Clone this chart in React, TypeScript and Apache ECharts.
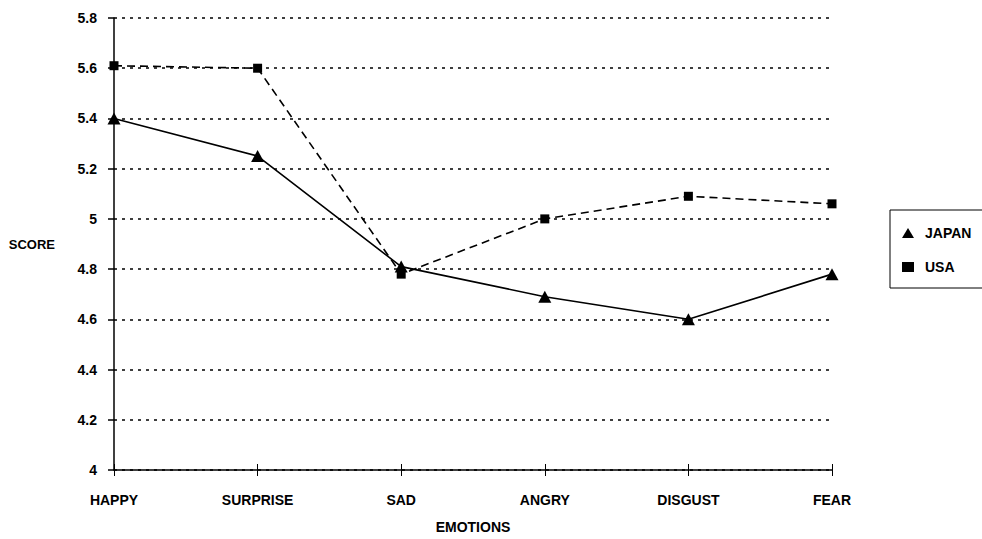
import React, { useEffect, useRef } from "react";
import * as echarts from "echarts";

const categories = ["HAPPY", "SURPRISE", "SAD", "ANGRY", "DISGUST", "FEAR"];
const japan = [5.4, 5.25, 4.81, 4.69, 4.6, 4.78];
const usa = [5.61, 5.6, 4.78, 5.0, 5.09, 5.06];
const yMin = 4;
const yMax = 5.8;
const yStep = 0.2;

const FONT = "'Liberation Sans', Arial, sans-serif";

export default function App() {
  const ref = useRef<HTMLDivElement>(null);
  useEffect(() => {
    if (!ref.current) return;
    const chart = echarts.init(ref.current, undefined, { renderer: "svg" });
    const txt = { fontFamily: FONT, fontWeight: "bold" as const, fontSize: 14, color: "#000" };
    chart.setOption({
      animation: false,
      backgroundColor: "#fff",
      grid: { left: 114, right: 150, top: 18, bottom: 64, containLabel: false },
      legend: {
        orient: "vertical",
        left: 890,
        top: 210,
        padding: [16, 40, 14, 12],
        borderColor: "#000",
        borderWidth: 1,
        itemWidth: 12,
        itemHeight: 10,
        itemGap: 20,
        textStyle: { ...txt, padding: [0, 0, 0, 6] },
        data: [
          { name: "JAPAN", icon: "triangle" },
          { name: "USA", icon: "rect" },
        ],
      },
      xAxis: [
        {
          type: "category",
          data: categories,
          boundaryGap: false,
          axisLine: { lineStyle: { color: "#000", width: 1.5 } },
          axisTick: { show: true, length: 6, lineStyle: { color: "#000", width: 1 } },
          axisLabel: { ...txt, margin: 23 },
          name: "EMOTIONS",
          nameLocation: "middle",
          nameGap: 50,
          nameTextStyle: txt,
          splitLine: { show: false },
        },
        {
          type: "category",
          data: categories,
          boundaryGap: false,
          position: "bottom",
          axisLine: { show: false },
          axisTick: { show: true, inside: true, length: 6, lineStyle: { color: "#000", width: 1 } },
          axisLabel: { show: false },
          splitLine: { show: false },
        },
      ],
      yAxis: {
        type: "value",
        min: yMin,
        max: yMax,
        interval: yStep,
        axisLine: { show: true, lineStyle: { color: "#000", width: 1.5 } },
        axisTick: { show: true, length: 6, lineStyle: { color: "#000", width: 1.5 } },
        axisLabel: {
          ...txt,
          margin: 17,
          formatter: (v: number) => String(Math.round(v * 10) / 10),
        },
        splitLine: {
          show: true,
          lineStyle: { color: "#000", width: 1.5, type: [3, 5] },
        },
        name: "SCORE",
        nameLocation: "middle",
        nameRotate: 0,
        nameGap: 59,
        nameTextStyle: { ...txt, fontSize: 13, align: "right" },
      },
      series: [
        {
          name: "JAPAN",
          type: "line",
          data: japan,
          symbol: "triangle",
          symbolSize: [13, 12],
          lineStyle: { color: "#000", width: 1.6, type: "solid" },
          itemStyle: { color: "#000" },
          z: 3,
        },
        {
          name: "USA",
          type: "line",
          data: usa,
          symbol: "rect",
          symbolSize: 9,
          lineStyle: { color: "#000", width: 1.6, type: [8, 5] },
          itemStyle: { color: "#000" },
          z: 3,
        },
      ],
    });
    return () => chart.dispose();
  }, []);
  return <div ref={ref} style={{ position: "fixed", left: 0, top: 0, width: 982, height: 539 }} />;
}
